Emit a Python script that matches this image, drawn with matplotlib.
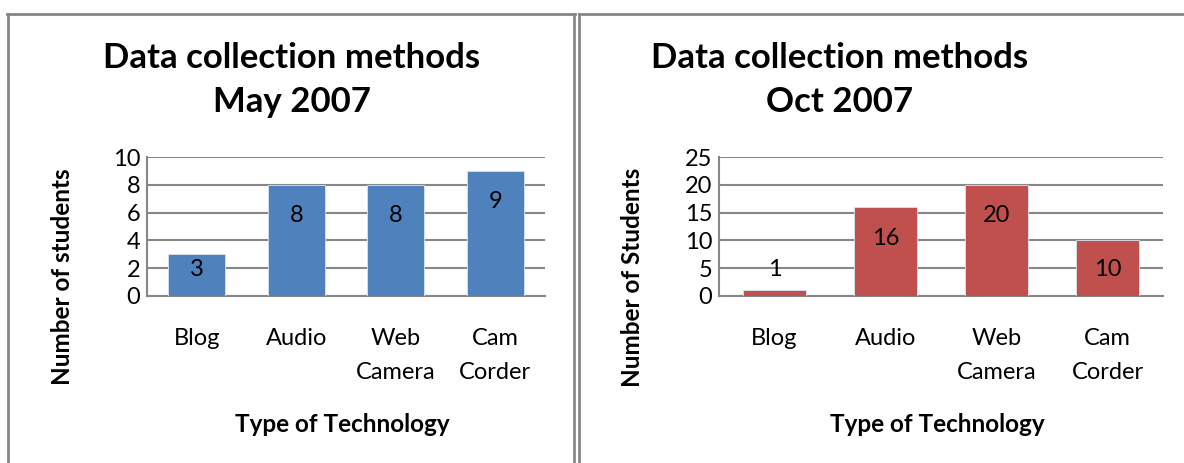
import matplotlib.pyplot as plt
from matplotlib.lines import Line2D

plt.rcParams['font.family'] = ['Lato', 'DejaVu Sans']

# data
categories = ['Blog', 'Audio', 'Web\nCamera', 'Cam\nCorder']
may_values = [3, 8, 8, 9]
oct_values = [1, 16, 20, 10]
titles = ['Data collection methods\nMay 2007', 'Data collection methods\nOct 2007']
ylabels = ['Number of students', 'Number of Students']
xlabel = 'Type of Technology'

W, H = 1184, 463
fig = plt.figure(figsize=(W / 100, H / 100), dpi=100)

grid_col = '#878787'

# panel borders (pixels)
def hline(x0, x1, y):
    fig.add_artist(Line2D([x0 / W, x1 / W], [1 - y / H, 1 - y / H], color=grid_col, lw=2))

def vline(x, y0, y1):
    fig.add_artist(Line2D([x / W, x / W], [1 - y0 / H, 1 - y1 / H], color=grid_col, lw=2))

hline(7, 575, 14)
vline(8, 14, 463)
vline(574, 14, 463)
hline(579, 1184, 14)
vline(579, 14, 463)

panels = [
    dict(vals=may_values, color='#4F81BD', ymax=10, step=2, ax=(147, 545),
         title_x=292, ylab_x=62, title=titles[0], ylabel=ylabels[0]),
    dict(vals=oct_values, color='#C0504D', ymax=25, step=5, ax=(719, 1163),
         title_x=840, ylab_x=633, title=titles[1], ylabel=ylabels[1]),
]

top, bottom = 157, 296
for p in panels:
    x0, x1 = p['ax']
    ax = fig.add_axes([x0 / W, 1 - bottom / H, (x1 - x0) / W, (bottom - top) / H])
    xs = range(len(categories))
    ax.bar(xs, p['vals'], width=0.57, color=p['color'], edgecolor='#dbe4f0', linewidth=0.6, zorder=3)
    ax.set_xlim(-0.5, len(categories) - 0.5)
    ax.set_ylim(0, p['ymax'])
    ax.set_yticks(range(0, p['ymax'] + 1, p['step']))
    ax.yaxis.grid(True, color=grid_col, lw=1.5, zorder=0)
    ax.tick_params(axis='y', length=0, pad=5, labelsize=17)
    ax.tick_params(axis='x', length=0, pad=23, labelsize=17)
    ax.set_xticks(list(xs))
    ax.set_xticklabels(categories, linespacing=1.75)
    for s in ['top', 'right']:
        ax.spines[s].set_visible(False)
    for s in ['left', 'bottom']:
        ax.spines[s].set_color(grid_col)
        ax.spines[s].set_linewidth(1.5)
    # data labels near the top of each bar
    ppu = (bottom - top) / p['ymax']
    for i, v in enumerate(p['vals']):
        ylab = max(v - 31 / ppu, 26 / ppu)
        ax.text(i, ylab, str(v), ha='center', va='center', fontsize=17, zorder=4)

    fig.text(p['title_x'] / W, 1 - 80 / H, p['title'], ha='center', va='center',
             fontsize=25, fontweight='bold', linespacing=1.5)
    fig.text(p['ylab_x'] / W, 1 - 277 / H, p['ylabel'], rotation=90, ha='center', va='center',
             fontsize=17.5, fontweight='bold')
    fig.text(((x0 + x1) / 2 - 4) / W, 1 - 424 / H, xlabel, ha='center', va='center',
             fontsize=17.5, fontweight='bold')

fig.savefig('out.png', dpi=100)
